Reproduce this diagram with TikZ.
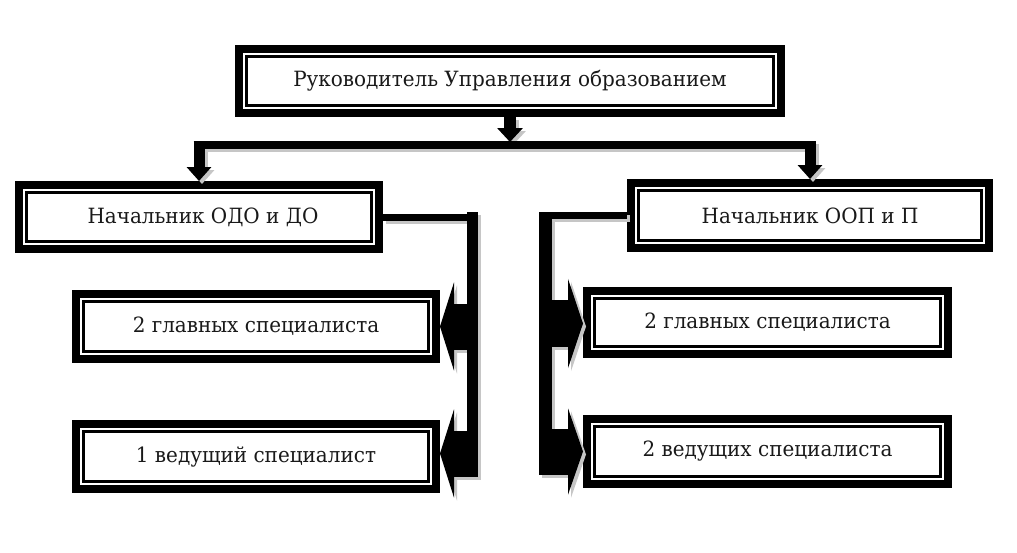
\documentclass[tikz,border=0pt]{standalone}
\usepackage{fontspec}
\setmainfont{DejaVu Serif}[FakeStretch=0.95]
\usetikzlibrary{arrows.meta}
\begin{document}
\begin{tikzpicture}[x=1pt,y=-1pt,
  box/.style={draw=black, line width=8pt, fill=white, inner sep=0pt,
    font=\fontsize{21}{24}\selectfont, text=black!90},
  inner frame/.style={draw=black, line width=2.2pt},
  shadowlayer/.style={transform canvas={shift={(3pt,-3pt)}}}]
\fill[white] (0,0) rectangle (1017,552);
\useasboundingbox (0,0) rectangle (1017,552);

% boxes
\node[box, minimum width=542, minimum height=64] (top) at (510,81) {Руководитель Управления образованием};
\node[box, minimum width=360, minimum height=64] (odo) at (199,217) {\hspace*{8pt}Начальник ОДО и ДО};
\node[box, minimum width=358, minimum height=65] (oop) at (810,215.5) {Начальник ООП и П};
\node[box, minimum width=360, minimum height=65] (l1) at (256,326.5) {2 главных специалиста};
\node[box, minimum width=360, minimum height=65] (l2) at (256,456.5) {1 ведущий специалист};
\node[box, minimum width=361, minimum height=63] (r1) at (767.5,322.5) {2 главных специалиста};
\node[box, minimum width=361, minimum height=65] (r2) at (767.5,451.5) {2 ведущих специалиста};

\foreach \n in {top,odo,oop,l1,l2,r1,r2}
  \draw[inner frame] ([shift={(11.5,11.5)}]\n.north west) rectangle ([shift={(-11.5,-11.5)}]\n.south east);

\coordinate (lb) at (472.5,212);
\coordinate (lbb) at (472.5,476.5);
\coordinate (rb) at (545.5,212);
\coordinate (rbb) at (545.5,474.5);

\newcommand\drawlinks[1]{%
  \draw[#1, line width=12pt, -{Triangle[width=25pt,length=14pt]}] (top.south) -- (top.south |- 0,142);
  \draw[#1, line width=8pt] ([xshift=-5.5pt]odo.north |- 0,145) -- ([xshift=5.5pt]oop.north |- 0,145);
  \draw[#1, line width=11pt, -{Triangle[width=24pt,length=14pt]}] (odo.north |- 0,141) -- (odo.north);
  \draw[#1, line width=11pt, -{Triangle[width=24pt,length=14pt]}] (oop.north |- 0,141) -- (oop.north);
  % left bracket
  \draw[#1, line width=7pt] (odo.east) -- (odo.east -| 478,0);
  \draw[#1, line width=11pt] (lb) -- (lbb);
  \draw[#1, line width=46pt, -{Triangle[width=88pt,length=14pt]}] (l1.east -| lb) -- (l1.east);
  \draw[#1, line width=46pt, -{Triangle[width=88pt,length=14pt]}] ([yshift=3pt]l2.east -| lb) -- ([yshift=3pt]l2.east);
  % right bracket
  \draw[#1, line width=7pt] (oop.west) -- (oop.west -| 539,0);
  \draw[#1, line width=13pt] (rb) -- (rbb);
  \draw[#1, line width=47pt, -{Triangle[width=89pt,length=15pt]}] ([yshift=-1pt]r1.west -| rb) -- ([yshift=-1pt]r1.west);
  \draw[#1, line width=46pt, -{Triangle[width=86pt,length=15pt]}] (r2.west -| rb) -- (r2.west);
}
\begin{scope}[shadowlayer]
  \drawlinks{gray!45}
\end{scope}
\drawlinks{black}
\end{tikzpicture}
\end{document}
